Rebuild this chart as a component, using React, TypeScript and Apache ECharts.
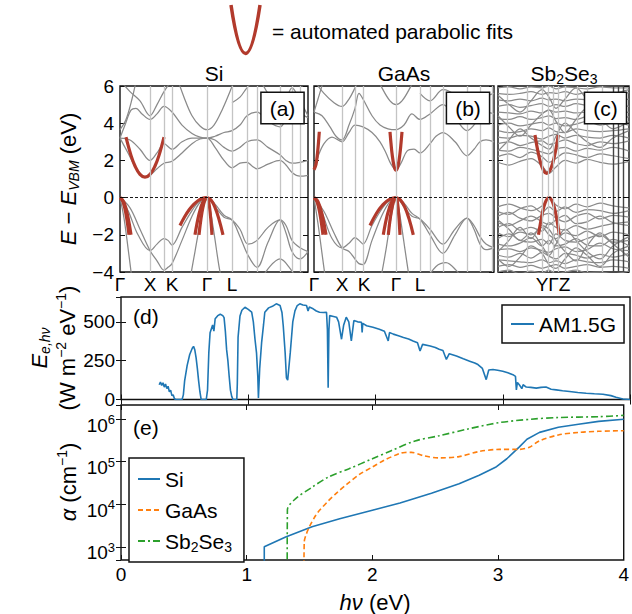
import React, { useEffect, useRef } from 'react';
import * as echarts from 'echarts';

const FONT = '"Liberation Sans", Arial, Helvetica, sans-serif';
const RED = '#B23A2C';
const BAND = '#8a8a8a';
const KLINE = '#c4c4c4';
const BLUE = '#1f77b4';
const ORANGE = '#ff7f0e';
const GREEN = '#2ca02c';

// ---------- (a) Si band structure ----------
const siKLines = [30, 44, 52, 87, 112, 127, 137, 160, 172, 180];
const siKTicks = [0, 30, 52, 87, 112];
const siKLabels = ['Γ', 'X', 'K', 'Γ', 'L'];
const siValence = [
  [[0, 0], [10, -0.55], [20, -1.7], [30, -2.85], [37, -3.4], [44, -3.9], [48, -3.75], [52, -3.55], [62, -2.3], [72, -1.0], [80, -0.25], [87, 0], [95, -0.35], [104, -0.95], [112, -1.2], [120, -2.1], [128, -3.1], [137, -3.75], [148, -2.4], [160, -1.2], [166, -1.9], [172, -2.9], [180, -3.3], [188, -2.9]],
  [[0, 0], [8, -0.7], [18, -2.0], [30, -2.85], [37, -2.5], [44, -2.2], [48, -2.3], [52, -2.55], [62, -1.6], [72, -0.7], [80, -0.15], [87, 0], [95, -0.5], [104, -1.05], [112, -1.2], [120, -1.7], [128, -2.5], [137, -2.3], [148, -1.6], [160, -1.2], [166, -1.5], [172, -2.3], [180, -2.7], [188, -2.9]],
  [[0, 0], [4, -1.1], [8, -2.7], [12, -4.4]],
  [[70, -4.4], [75, -2.9], [80, -1.4], [84, -0.4], [87, 0], [90, -0.6], [94, -1.9], [99, -3.7], [102, -4.5]],
  [[140, -4.5], [150, -3.7], [160, -3.3], [170, -3.8], [178, -4.5]],
];
const siConduction = [
  [[0, 3.2], [8, 2.4], [16, 1.6], [25, 1.1], [30, 1.2], [37, 1.55], [44, 1.85], [52, 1.95], [62, 2.4], [72, 2.9], [80, 3.15], [87, 3.2], [95, 2.7], [104, 2.0], [112, 1.6], [120, 1.85], [127, 1.9], [132, 1.7], [137, 1.55], [148, 1.8], [160, 2.0], [166, 1.75], [172, 1.35], [180, 1.15], [188, 1.2]],
  [[0, 3.2], [10, 3.1], [20, 2.6], [30, 2.0], [37, 2.4], [44, 2.9], [52, 2.6], [62, 3.0], [72, 3.2], [80, 3.2], [87, 3.2], [95, 3.1], [104, 2.7], [112, 2.5], [120, 2.7], [127, 3.0], [137, 3.1], [148, 2.7], [160, 2.3], [166, 2.0], [172, 1.85], [180, 1.9], [188, 2.0]],
  [[0, 3.2], [5, 3.9], [11, 4.7], [16, 4.8], [22, 4.5], [30, 4.2], [37, 4.5], [44, 4.9], [52, 4.6], [62, 3.9], [72, 3.45], [80, 3.25], [87, 3.2], [95, 3.3], [104, 3.5], [112, 3.6], [120, 3.9], [127, 4.4], [137, 4.6], [148, 4.1], [160, 3.8], [166, 4.2], [172, 4.6], [180, 4.5], [188, 4.3]],
  [[0, 3.65], [6, 4.2], [12, 5.3], [17, 6.5]],
  [[56, 6.6], [64, 5.4], [72, 4.4], [80, 3.85], [87, 3.65], [94, 3.9], [102, 4.7], [110, 5.7], [116, 6.6]],
  [[0, 6.3], [10, 5.7], [20, 5.2], [30, 4.4], [37, 5.0], [44, 5.7], [52, 6.3], [58, 6.6]],
  [[112, 5.1], [120, 5.4], [127, 5.9], [137, 6.4], [148, 5.6], [160, 4.9], [166, 5.3], [172, 5.9], [180, 5.2], [188, 4.4]],
];
const siFits = [
  [[6, 3.25], [11, 2.27], [15, 1.7], [20, 1.25], [25, 1.1], [30, 1.25], [35, 1.7], [39, 2.27], [44, 3.25]],
  [[0, 0], [3, -0.22], [6, -0.89], [9, -2.0]],
  [[0, 0], [4, -0.26], [8, -1.06], [11, -2.0]],
  [[60, -1.5], [64.5, -1.04], [69, -0.67], [73.5, -0.375], [78, -0.17], [82.5, -0.04], [87, 0]],
  [[87, 0], [91, -0.13], [95, -0.52], [99, -1.17], [103, -2.0]],
  [[75, -2], [79, -0.89], [83, -0.22], [87, 0]],
  [[79, -2], [81, -1.125], [83, -0.5], [85, -0.125], [87, 0]],
  [[87, 0], [88.25, -0.125], [89.5, -0.5], [90.75, -1.125], [92, -2]],
];

// ---------- (b) GaAs band structure ----------
const gaKLines = [28, 41, 49, 82, 106, 116, 129, 153, 166, 178];
const gaKTicks = [0, 28, 50, 82, 106];
const gaKLabels = ['Γ', 'X', 'K', 'Γ', 'L'];
const gaValence = [
  [[0, 0], [10, -0.75], [20, -1.9], [28, -2.7], [35, -2.9], [41, -3.3], [45, -3.55], [49, -3.6], [58, -2.3], [68, -0.95], [76, -0.2], [82, 0], [90, -0.3], [98, -0.85], [106, -1.15], [116, -2.0], [129, -3.0], [141, -2.0], [153, -1.1], [160, -1.7], [166, -2.5], [172, -2.8], [180, -2.7]],
  [[0, 0], [8, -0.8], [18, -2.2], [28, -2.7], [35, -2.45], [41, -2.15], [45, -2.3], [49, -2.5], [58, -1.5], [68, -0.6], [76, -0.1], [82, 0], [90, -0.5], [98, -1.0], [106, -1.15], [116, -1.7], [129, -2.5], [141, -1.7], [153, -1.1], [160, -1.5], [166, -2.1], [172, -2.5], [180, -2.7]],
  [[0, 0], [4, -1.4], [8, -3.0], [12, -4.6]],
  [[66, -4.6], [72, -2.8], [77, -1.1], [82, 0], [86, -1.0], [91, -2.8], [96, -4.6]],
  [[112, -4.5], [122, -3.7], [132, -3.5], [142, -3.9], [150, -4.5]],
];
const gaConduction = [
  [[0, 1.5], [4, 2.2], [10, 2.9], [18, 3.25], [28, 3.0], [35, 3.5], [41, 3.9], [49, 3.8], [58, 3.5], [66, 3.0], [72, 2.4], [77, 1.8], [82, 1.5], [87, 1.85], [93, 2.5], [100, 2.6], [106, 2.4], [116, 2.9], [122, 3.3], [129, 3.5], [141, 3.0], [153, 2.25], [160, 2.6], [166, 3.0], [172, 3.1], [180, 3.0]],
  [[0, 4.6], [8, 4.4], [16, 3.8], [22, 3.3], [28, 3.1], [35, 3.9], [41, 4.8], [45, 5.6], [49, 5.3], [58, 4.4], [66, 3.9], [74, 3.7], [82, 3.65], [90, 3.9], [98, 4.5], [106, 4.2], [116, 4.5], [129, 5.0], [141, 4.3], [153, 3.6], [166, 4.3], [172, 4.6], [180, 4.5]],
  [[60, 6.8], [68, 5.9], [76, 5.2], [82, 5.0], [88, 5.2], [96, 5.9], [104, 6.8]],
  [[0, 4.6], [4, 5.3], [9, 6.2], [13, 7]],
  [[0, 6.3], [10, 5.6], [20, 5.1], [28, 4.9], [35, 5.3], [41, 5.9], [47, 6.6]],
  [[106, 5.6], [116, 5.2], [129, 5.8], [141, 5.5], [153, 4.7], [166, 5.3], [180, 5.6]],
];
const gaFits = [
  [[0, 1.5], [2, 1.79], [3.5, 2.39], [4.5, 2.97], [5.3, 3.54]],
  [[76, 3.54], [77, 2.91], [78, 2.39], [80, 1.71], [82, 1.48], [84, 1.71], [86, 2.39], [87, 2.91], [88, 3.54]],
  [[0, 0], [4, -0.22], [8, -0.89], [12, -2]],
  [[0, 0], [3, -0.22], [6, -0.89], [9, -2]],
  [[56, -1.5], [62.5, -0.84], [69, -0.375], [75.5, -0.094], [82, 0]],
  [[82, 0], [86.3, -0.125], [90.7, -0.5], [95, -1.13], [99.3, -2]],
  [[69.3, -2], [73.5, -0.89], [77.8, -0.22], [82, 0]],
  [[74.3, -2], [76.2, -1.125], [78.2, -0.5], [80.1, -0.125], [82, 0]],
  [[82, 0], [83, -0.125], [84, -0.5], [85, -1.125], [86, -2]],
];

// ---------- (c) Sb2Se3 band structure ----------
const sbKLines = [9, 29, 44, 50, 55, 60, 67, 79, 89, 104];
const sbKDark = [115, 120, 125];
const sbKTicks = [55];
const sbKLabels = ['YΓZ'];
const sbK = [0, 11, 22, 33, 44, 51, 58, 67, 78, 89, 102, 115, 131];
const sbValence = [
  [-0.5, -0.35, -0.55, -0.7, -0.45, 0.0, -0.4, -0.6, -0.35, -0.5, -0.3, -0.45, -0.55],
  [-0.75, -0.9, -0.6, -0.45, -0.8, -0.5, -0.75, -0.5, -0.8, -0.65, -0.7, -0.85, -0.7],
  [-1.0, -0.8, -1.1, -1.25, -0.95, -0.85, -1.1, -1.3, -1.0, -0.85, -1.15, -0.95, -1.05],
  [-1.35, -1.5, -1.25, -1.0, -1.3, -1.45, -1.2, -0.95, -1.4, -1.3, -1.0, -1.35, -1.5],
  [-1.6, -1.4, -1.75, -1.6, -1.8, -1.35, -1.6, -1.75, -1.5, -1.7, -1.55, -1.4, -1.3],
  [-1.9, -2.1, -1.85, -2.0, -1.6, -2.0, -2.2, -1.9, -2.05, -1.8, -2.1, -1.85, -2.0],
  [-2.2, -1.95, -2.3, -2.4, -2.25, -2.5, -1.95, -2.3, -2.4, -2.2, -2.0, -2.4, -2.3],
  [-2.5, -2.6, -2.45, -2.15, -2.6, -2.3, -2.6, -2.5, -2.2, -2.55, -2.6, -2.25, -2.6],
  [-2.8, -2.75, -2.9, -2.7, -2.85, -2.95, -2.75, -2.65, -2.9, -2.8, -2.45, -2.75, -2.85],
  [-3.1, -3.2, -3.0, -3.25, -2.95, -3.15, -3.3, -3.0, -3.1, -3.25, -3.05, -3.2, -3.0],
  [-3.35, -3.4, -3.45, -3.5, -3.35, -3.5, -3.4, -3.55, -3.35, -3.45, -3.5, -3.35, -3.45],
  [-3.7, -3.6, -3.75, -3.65, -3.8, -3.7, -3.6, -3.8, -3.7, -3.6, -3.75, -3.7, -3.8],
  [-4.0, -3.9, -4.1, -3.95, -4.05, -3.9, -4.1, -4.0, -3.9, -4.05, -4.0, -4.1, -3.95],
  [-1.2, -1.7, -2.3, -1.9, -2.6, -3.1, -2.5, -1.7, -2.3, -2.9, -3.3, -2.6, -2.1],
  [-2.9, -2.3, -1.6, -2.2, -1.5, -1.7, -2.3, -2.9, -3.4, -2.6, -1.9, -2.5, -3.2],
  [-3.3, -3.7, -3.2, -2.6, -3.0, -3.6, -3.8, -3.3, -2.7, -3.1, -3.7, -3.0, -2.6],
];
const sbConduction = [
  [1.9, 1.75, 1.95, 2.1, 1.7, 1.3, 1.65, 2.0, 1.85, 2.05, 1.9, 1.8, 1.95],
  [2.2, 2.35, 2.15, 2.45, 2.2, 1.9, 2.1, 2.4, 2.3, 2.15, 2.35, 2.25, 2.1],
  [2.55, 2.5, 2.7, 2.6, 2.45, 2.35, 2.6, 2.7, 2.5, 2.65, 2.55, 2.7, 2.5],
  [2.9, 3.0, 2.8, 2.95, 3.05, 2.85, 2.95, 3.1, 2.9, 2.8, 3.0, 2.9, 3.05],
  [3.25, 3.2, 3.35, 3.3, 3.15, 3.3, 3.4, 3.2, 3.35, 3.25, 3.2, 3.35, 3.2],
  [3.6, 3.5, 3.55, 3.7, 3.6, 3.75, 3.55, 3.5, 3.7, 3.6, 3.55, 3.6, 3.7],
  [3.9, 4.0, 3.85, 3.95, 4.05, 3.9, 4.0, 3.85, 3.95, 4.1, 3.9, 4.0, 3.9],
  [4.25, 4.2, 4.35, 4.2, 4.3, 4.4, 4.25, 4.3, 4.2, 4.35, 4.3, 4.2, 4.35],
  [4.6, 4.55, 4.5, 4.65, 4.55, 4.7, 4.6, 4.65, 4.55, 4.6, 4.7, 4.55, 4.6],
  [4.9, 5.0, 4.85, 4.95, 5.05, 4.9, 5.0, 4.9, 5.05, 4.95, 4.9, 5.0, 4.9],
  [5.25, 5.2, 5.3, 5.2, 5.35, 5.25, 5.3, 5.2, 5.3, 5.25, 5.35, 5.2, 5.3],
  [5.6, 5.55, 5.6, 5.7, 5.55, 5.65, 5.6, 5.7, 5.55, 5.65, 5.6, 5.55, 5.65],
  [5.9, 5.95, 5.85, 5.95, 5.9, 6.0, 5.85, 5.95, 5.9, 5.85, 5.95, 5.9, 5.9],
  [2.5, 3.1, 3.7, 3.2, 2.8, 2.6, 3.3, 4.0, 3.5, 3.0, 2.7, 3.2, 3.6],
  [4.4, 3.8, 3.3, 3.9, 4.5, 4.7, 4.1, 3.5, 4.2, 4.8, 4.3, 3.7, 4.1],
  [5.5, 5.0, 4.6, 5.2, 5.8, 5.4, 4.8, 5.3, 5.9, 5.3, 4.9, 5.5, 5.8],
];
const sbFits = [
  [[37, 3.37], [39.7, 2.54], [42.7, 1.85], [45.7, 1.44], [48.7, 1.3], [51.7, 1.44], [54.7, 1.85], [57.7, 2.54], [60.3, 3.37]],
  [[40.5, -2], [43.3, -1.12], [45.8, -0.5], [48.4, -0.125], [51, 0], [53.6, -0.125], [56.2, -0.5], [58.7, -1.12], [61.3, -2]],
];

// ---------- (d) AM1.5G spectrum ----------
const amEnergy = [0.30, 0.31, 0.32, 0.33, 0.34, 0.35, 0.36, 0.37, 0.38, 0.39, 0.40, 0.41, 0.42, 0.43, 0.48,
  0.49, 0.50, 0.52, 0.54, 0.56, 0.57, 0.58, 0.59, 0.60, 0.61, 0.62, 0.63, 0.67,
  0.68, 0.69, 0.70, 0.72, 0.73, 0.74, 0.76, 0.78, 0.80, 0.81, 0.82, 0.83, 0.84, 0.85, 0.86, 0.87, 0.88, 0.91,
  0.914, 0.92, 0.935, 0.95, 0.974, 1.0, 1.027, 1.04, 1.053, 1.065, 1.075, 1.08, 1.09, 1.105, 1.12, 1.13, 1.16, 1.19, 1.22, 1.25, 1.265, 1.275, 1.29, 1.30, 1.31, 1.33, 1.35, 1.367, 1.385, 1.405, 1.43, 1.458, 1.47, 1.48, 1.51, 1.535, 1.56, 1.59, 1.615, 1.622, 1.628, 1.634, 1.64, 1.67, 1.694, 1.71, 1.733, 1.75, 1.77, 1.79, 1.81, 1.83, 1.86, 1.89, 1.895, 1.90, 1.93, 1.98, 2.03, 2.07, 2.10, 2.11, 2.14, 2.18, 2.22, 2.26, 2.295, 2.33, 2.35, 2.37, 2.43, 2.47, 2.50, 2.53, 2.557, 2.58, 2.636, 2.69, 2.74, 2.78, 2.805, 2.84, 2.87, 2.89, 2.923, 2.96, 3.0, 3.04, 3.08, 3.1, 3.107, 3.115, 3.13, 3.15, 3.16, 3.185, 3.22, 3.264, 3.30, 3.34, 3.38, 3.42, 3.47, 3.525, 3.59, 3.656, 3.72, 3.787, 3.85, 3.89, 3.944, 4.0];
const amIrradiance = [95, 112, 90, 108, 80, 100, 70, 85, 50, 60, 25, 30, 5, 0, 0,
  30, 120, 220, 290, 330, 342, 320, 270, 200, 120, 50, 0, 0,
  60, 300, 430, 480, 440, 520, 540, 549, 540, 527, 440, 321, 250, 150, 60, 20, 0, 0,
  100, 400, 538, 575, 594, 580, 562, 500, 388, 300, 150, 10, 200, 366, 480, 562, 590, 600, 616, 605, 560, 475, 300, 140, 125, 300, 500, 571, 605, 616, 608, 605, 570, 595, 584, 570, 562, 560, 562, 450, 76, 450, 540, 535, 530, 500, 388, 480, 530, 500, 377, 508, 500, 497, 432, 490, 475, 465, 453, 440, 377, 431, 421, 410, 399, 390, 377, 365, 312, 355, 345, 335, 323, 315, 258, 295, 280, 262, 247, 235, 225, 200, 128, 190, 193, 188, 182, 172, 160, 149, 62, 110, 95, 70, 95, 80, 78, 73, 78, 80, 66, 62, 56, 51, 45, 40, 37, 34, 25, 14, 3, 0];

// ---------- (e) absorption coefficients ----------
const siEnergy = [1.14, 1.14, 1.31, 1.52, 1.74, 2.0, 2.22, 2.47, 2.69, 2.85, 2.98, 3.07, 3.17, 3.23, 3.33, 3.48, 3.64, 3.8, 4.0];
const siAlpha = [100, 1000, 1700, 2950, 4570, 7240, 10700, 18200, 30200, 47900, 74100, 117500, 224000, 339000, 490000, 646000, 759000, 891000, 1000000];
const gaasEnergy = [1.455, 1.458, 1.475, 1.50, 1.55, 1.58, 1.65, 1.71, 1.80, 1.90, 2.0, 2.09, 2.22, 2.26, 2.31, 2.41, 2.53, 2.69, 2.85, 3.01, 3.17, 3.25, 3.33, 3.48, 3.64, 3.8, 4.0];
const gaasAlpha = [100, 1300, 2000, 3000, 5500, 7200, 12000, 17800, 30000, 51000, 75000, 107000, 158000, 165000, 166000, 138000, 123000, 132000, 174000, 195000, 195000, 220000, 310000, 427000, 490000, 520000, 537000];
const sbEnergy = [1.322, 1.324, 1.39, 1.52, 1.65, 1.81, 2.0, 2.15, 2.34, 2.53, 2.76, 3.01, 3.26, 3.48, 3.8, 4.0];
const sbAlpha = [100, 7400, 13500, 25100, 43700, 67600, 117500, 182000, 309000, 407000, 589000, 832000, 1000000, 1096000, 1148000, 1230000];

const zip = (xs: number[], ys: number[]) => xs.map((x, i) => [x, ys[i]]);
const minus = (v: number) => (v < 0 ? '\u2212' + Math.abs(v) : String(v));

const TICK = 19;
const TXT = 21;
const NAME = 22;

const rich = (f: number) => ({
  n: { fontSize: f, lineHeight: 26, verticalAlign: 'middle', fontFamily: FONT, color: '#000' },
  i: { fontSize: f, lineHeight: 26, verticalAlign: 'middle', fontStyle: 'italic', fontFamily: FONT, color: '#000' },
  sub: { fontSize: Math.round(f * 0.65), lineHeight: 14, verticalAlign: 'bottom', fontFamily: FONT, color: '#000' },
  isub: { fontSize: Math.round(f * 0.65), lineHeight: 14, verticalAlign: 'bottom', fontStyle: 'italic', fontFamily: FONT, color: '#000' },
  sup: { fontSize: Math.round(f * 0.65), lineHeight: 12, verticalAlign: 'top', fontFamily: FONT, color: '#000' },
});

function buildOption() {
  const panels = [
    { left: 120, width: 188, kMax: 188, lines: siKLines, dark: [] as number[], ticks: siKTicks, labels: siKLabels, bands: [...siValence, ...siConduction], fits: siFits },
    { left: 314, width: 180, kMax: 180, lines: gaKLines, dark: [] as number[], ticks: gaKTicks, labels: gaKLabels, bands: [...gaValence, ...gaConduction], fits: gaFits },
    {
      left: 498, width: 131, kMax: 131, lines: sbKLines, dark: sbKDark, ticks: sbKTicks, labels: sbKLabels,
      bands: [...sbValence, ...sbConduction].map((row) => row.map((e, j) => [sbK[j], e])), fits: sbFits,
    },
  ];
  const border = { show: true, borderColor: '#111', borderWidth: 1.4, backgroundColor: 'transparent' };
  const grid: any[] = panels.map((p) => ({ ...border, left: p.left, top: 86, width: p.width, height: 186 }));
  grid.push({ ...border, left: 121, top: 297, width: 509, height: 102.5 });
  grid.push({ ...border, left: 121, top: 405, width: 509, height: 155 });

  const tickStyle = { inside: true, length: 5, lineStyle: { color: '#111', width: 1 } };
  const xAxis: any[] = panels.map((p, i) => ({
    gridIndex: i, type: 'value', min: 0, max: p.kMax,
    axisLine: { show: false }, axisTick: { show: false }, splitLine: { show: false },
    axisLabel: {
      customValues: p.ticks,
      formatter: (v: number) => { const j = p.ticks.findIndex((t) => Math.abs(t - v) < 1e-6); return j >= 0 ? p.labels[j] : ''; },
      fontSize: TICK, color: '#000', fontFamily: FONT, margin: 3,
    },
  }));
  xAxis.push({ gridIndex: 3, type: 'value', min: 0, max: 4, interval: 1, axisLine: { show: false }, axisTick: tickStyle, splitLine: { show: false }, axisLabel: { show: false } });
  xAxis.push({ gridIndex: 4, type: 'value', min: 0, max: 4, interval: 1, axisLine: { show: false }, axisTick: tickStyle, splitLine: { show: false }, axisLabel: { fontSize: TICK, color: '#000', fontFamily: FONT, margin: 5 } });
  xAxis.push({ gridIndex: 3, type: 'value', position: 'top', min: 0, max: 4, interval: 1, axisLine: { show: false }, axisTick: tickStyle, splitLine: { show: false }, axisLabel: { show: false } });
  xAxis.push({ gridIndex: 4, type: 'value', position: 'top', min: 0, max: 4, interval: 1, axisLine: { show: false }, axisTick: tickStyle, splitLine: { show: false }, axisLabel: { show: false } });

  const bandY = (i: number, pos: string, labels: boolean) => ({
    gridIndex: i, type: 'value', position: pos, min: -4, max: 6, interval: 2,
    axisLine: { show: false }, axisTick: tickStyle, splitLine: { show: false },
    axisLabel: { show: labels, formatter: minus, fontSize: TICK, color: '#000', fontFamily: FONT, margin: 6 },
  });
  const dY = (pos: string, labels: boolean) => ({
    gridIndex: 3, type: 'value', position: pos, min: 0, max: 660, interval: 250,
    axisLine: { show: false }, axisTick: tickStyle, splitLine: { show: false },
    axisLabel: { show: labels, showMaxLabel: false, formatter: (v: number) => (v % 250 === 0 ? String(v) : ''), fontSize: TICK, color: '#000', fontFamily: FONT, margin: 6 },
  });
  const eY = (pos: string, labels: boolean) => ({
    gridIndex: 4, type: 'log', logBase: 10, position: pos, min: 488, max: 2160000,
    axisLine: { show: false }, axisTick: tickStyle, splitLine: { show: false }, minorTick: { show: false },
    axisLabel: {
      show: labels, showMinLabel: false, showMaxLabel: false, margin: 6, padding: [12, 0, 0, 0],
      formatter: (v: number) => {
        const p = Math.log10(v);
        if (Math.abs(p - Math.round(p)) > 1e-6) return '';
        return `{b|10}{s|${Math.round(p)}}`;
      },
      rich: {
        b: { fontSize: TICK, lineHeight: 24, verticalAlign: 'middle', fontFamily: FONT, color: '#000' },
        s: { fontSize: 13, lineHeight: 10, verticalAlign: 'top', fontFamily: FONT, color: '#000' },
      },
    },
  });
  const yAxis: any[] = [bandY(0, 'left', true), bandY(1, 'left', false), bandY(2, 'left', false), dY('left', true), eY('left', true),
    bandY(0, 'right', false), bandY(1, 'right', false), bandY(2, 'right', false), dY('right', false), eY('right', false)];

  const series: any[] = [];
  panels.forEach((p, i) => {
    series.push({
      type: 'line', name: `kpath-${i}`, xAxisIndex: i, yAxisIndex: i, data: [[-10, -10]], symbol: 'none', silent: true, z: 1,
      lineStyle: { width: 0 },
      markLine: {
        silent: true, symbol: ['none', 'none'], label: { show: false }, animation: false,
        lineStyle: { color: KLINE, width: 1.3, type: 'solid' },
        data: [
          ...p.lines.map((k) => ({ xAxis: k })),
          ...p.dark.map((k) => ({ xAxis: k, lineStyle: { color: '#444', width: 1.4, type: 'solid' } })),
        ],
      },
    });
    p.bands.forEach((b, j) => series.push({
      type: 'line', name: `band-${i}-${j}`, xAxisIndex: i, yAxisIndex: i, data: b, smooth: 0.35, symbol: 'none', silent: true, z: 2,
      lineStyle: { color: BAND, width: 1.25 },
    }));
    series.push({
      type: 'line', name: `vbm-${i}`, xAxisIndex: i, yAxisIndex: i, data: [[-10, -10]], symbol: 'none', silent: true, z: 3,
      lineStyle: { width: 0 },
      markLine: {
        silent: true, symbol: ['none', 'none'], label: { show: false }, animation: false,
        lineStyle: { color: '#000', width: 0.9, type: [3, 2] },
        data: [{ yAxis: 0 }],
      },
    });
    p.fits.forEach((f, j) => series.push({
      type: 'line', name: `fit-${i}-${j}`, xAxisIndex: i, yAxisIndex: i, data: f, smooth: 0.4, symbol: 'none', silent: true, z: 4,
      lineStyle: { color: RED, width: 3.2, cap: 'butt' },
    }));
  });
  series.push({ type: 'line', name: 'AM1.5G', xAxisIndex: 3, yAxisIndex: 3, data: zip(amEnergy, amIrradiance), symbol: 'none', z: 3, lineStyle: { color: BLUE, width: 1.6 }, itemStyle: { color: BLUE } });
  series.push({ type: 'line', name: 'Si', xAxisIndex: 4, yAxisIndex: 4, data: zip(siEnergy, siAlpha), symbol: 'none', z: 3, lineStyle: { color: BLUE, width: 1.6 }, itemStyle: { color: BLUE } });
  series.push({ type: 'line', name: 'GaAs', xAxisIndex: 4, yAxisIndex: 4, data: zip(gaasEnergy, gaasAlpha), smooth: 0.3, symbol: 'none', z: 3, lineStyle: { color: ORANGE, width: 1.6, type: [5, 3] }, itemStyle: { color: ORANGE } });
  series.push({ type: 'line', name: 'Sb2Se3', xAxisIndex: 4, yAxisIndex: 4, data: zip(sbEnergy, sbAlpha), smooth: 0.3, symbol: 'none', z: 3, lineStyle: { color: GREEN, width: 1.6, type: [7, 3, 2, 3] }, itemStyle: { color: GREEN } });

  const legendText = { fontSize: TXT, color: '#000', fontFamily: FONT, lineHeight: 22 };
  const legend = [
    {
      data: ['AM1.5G'], left: 502, top: 305, padding: [8, 8, 8, 8], itemWidth: 23, itemHeight: 12, itemGap: 5,
      borderColor: '#111', borderWidth: 1.5, backgroundColor: '#fff', selectedMode: false, textStyle: legendText, z: 10,
      itemStyle: { opacity: 0 },
    },
    {
      data: ['Si', 'GaAs', 'Sb2Se3'], left: 129, top: 458, orient: 'vertical', padding: [8, 12, 8, 8], itemWidth: 22, itemHeight: 12, itemGap: 5,
      borderColor: '#111', borderWidth: 1.5, backgroundColor: '#fff', selectedMode: false, z: 10,
      itemStyle: { opacity: 0 },
      formatter: (name: string) => (name === 'Sb2Se3' ? '{n|Sb}{sub|2}{n|Se}{sub|3}' : `{n|${name}}`),
      textStyle: { ...legendText, rich: rich(TXT) },
    },
  ];

  const R = rich(NAME);
  const RT = rich(TXT);
  const tag = (label: string, cx: number, cy: number) => ({
    type: 'text', x: cx, y: cy, z: 20,
    style: {
      text: label, align: 'center', verticalAlign: 'middle', fontSize: TXT, fontFamily: FONT, fill: '#000',
      backgroundColor: '#fff', borderColor: '#111', borderWidth: 1.5, padding: [4, 8, 4, 8], lineHeight: 22,
    },
  });
  const graphic: any[] = [
    { type: 'bezierCurve', shape: { x1: 231, y1: 5, x2: 260, y2: 5, cpx1: 245.5, cpy1: 102 }, style: { stroke: RED, lineWidth: 3.5, fill: 'none' } },
    { type: 'text', x: 272, y: 31, style: { text: '= automated parabolic fits', align: 'left', verticalAlign: 'middle', fontSize: TXT, fontFamily: FONT, fill: '#000' } },
    { type: 'text', x: 214, y: 73, style: { text: 'Si', align: 'center', verticalAlign: 'middle', fontSize: TXT, fontFamily: FONT, fill: '#000' } },
    { type: 'text', x: 404, y: 73, style: { text: 'GaAs', align: 'center', verticalAlign: 'middle', fontSize: TXT, fontFamily: FONT, fill: '#000' } },
    { type: 'text', x: 564, y: 73, style: { text: '{n|Sb}{sub|2}{n|Se}{sub|3}', rich: RT, align: 'center', verticalAlign: 'middle', fontSize: TXT, fontFamily: FONT, fill: '#000' } },
    tag('(a)', 282.5, 108), tag('(b)', 468, 108), tag('(c)', 605.5, 108),
    { type: 'text', x: 133, y: 316, z: 20, style: { text: '(d)', align: 'left', verticalAlign: 'middle', fontSize: TXT, fontFamily: FONT, fill: '#000' } },
    { type: 'text', x: 133, y: 427, z: 20, style: { text: '(e)', align: 'left', verticalAlign: 'middle', fontSize: TXT, fontFamily: FONT, fill: '#000' } },
    { type: 'text', x: 68, y: 179, rotation: Math.PI / 2, style: { text: '{i|E}{n| \u2212 }{i|E}{isub|VBM}{n| (eV)}', rich: R, align: 'center', verticalAlign: 'middle', fontSize: NAME, fontFamily: FONT, fill: '#000' } },
    { type: 'text', x: 39, y: 348, rotation: Math.PI / 2, style: { text: '{i|E}{isub|e,hν}', rich: R, align: 'center', verticalAlign: 'middle', fontSize: NAME, fontFamily: FONT, fill: '#000' } },
    { type: 'text', x: 67, y: 348, rotation: Math.PI / 2, style: { text: '{n|(W m}{sup|\u22122}{n| eV}{sup|\u22121}{n|)}', rich: R, align: 'center', verticalAlign: 'middle', fontSize: NAME, fontFamily: FONT, fill: '#000' } },
    { type: 'text', x: 68, y: 482, rotation: Math.PI / 2, style: { text: '{i|α}{n| (cm}{sup|\u22121}{n|)}', rich: R, align: 'center', verticalAlign: 'middle', fontSize: NAME, fontFamily: FONT, fill: '#000' } },
    { type: 'text', x: 375, y: 602, style: { text: '{i|hν}{n| (eV)}', rich: R, align: 'center', verticalAlign: 'middle', fontSize: NAME, fontFamily: FONT, fill: '#000' } },
  ];

  return {
    animation: false,
    backgroundColor: '#fff',
    textStyle: { fontFamily: FONT },
    grid, xAxis, yAxis, series, legend, graphic,
  };
}

export default function App() {
  const ref = useRef<HTMLDivElement>(null);
  useEffect(() => {
    const chart = echarts.init(ref.current!, null, { renderer: 'svg' });
    chart.setOption(buildOption() as any);
    return () => chart.dispose();
  }, []);
  return <div ref={ref} style={{ position: 'fixed', left: 0, top: 0, width: 632, height: 614, background: '#fff' }} />;
}
